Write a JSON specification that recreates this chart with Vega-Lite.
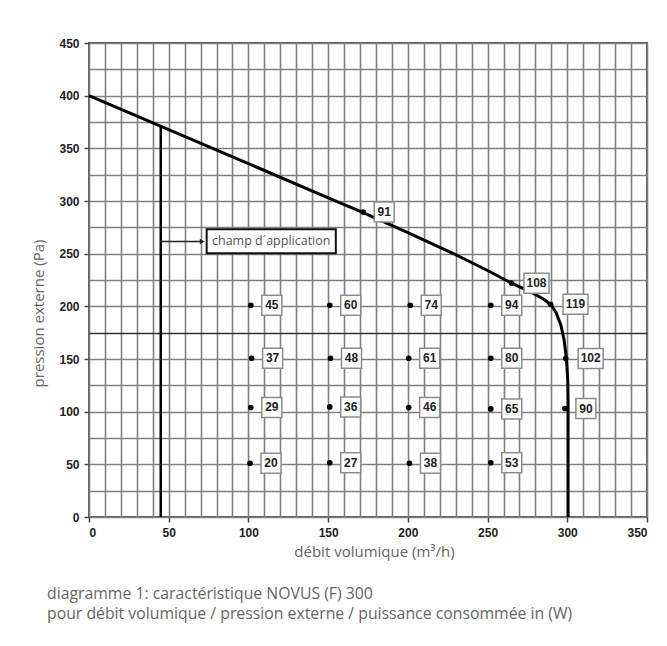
{
  "$schema": "https://vega.github.io/schema/vega-lite/v6.json",
  "width": 558,
  "height": 474,
  "autosize": "none",
  "padding": {"left": 89, "top": 43, "right": 20, "bottom": 129},
  "background": "white",
  "config": {
    "view": {"stroke": "#555", "strokeWidth": 2},
    "axis": {
      "labelFont": "Liberation Sans", "labelFontWeight": "bold", "labelFontSize": 12, "labelColor": "#222",
      "titleFont": "Open Sans", "titleFontWeight": "normal", "titleFontSize": 15, "titleColor": "#666",
      "domain": false, "tickColor": "#444", "tickWidth": 1.5, "tickSize": 5, "labelPadding": 5,
      "gridColor": "#808080", "gridWidth": 1.6, "gridOpacity": 1
    }
  },
  "title": {
    "text": ["diagramme 1: caractéristique NOVUS (F) 300", "pour débit volumique / pression externe / puissance consommée in (W)"],
    "orient": "bottom", "anchor": "start", "frame": "group", "dx": -42, "offset": 28,
    "font": "Open Sans", "fontSize": 15.8, "fontWeight": "normal", "color": "#666", "lineHeight": 20
  },
  "encoding": {
    "x": {
      "field": "x", "type": "quantitative",
      "scale": {"domain": [0, 350], "nice": false, "zero": true},
      "axis": {
        "title": "débit volumique (m³/h)", "titleX": 285, "titleY": 34, "titleBaseline": "middle",
        "values": [0,10,20,30,40,50,60,70,80,90,100,110,120,130,140,150,160,170,180,190,200,210,220,230,240,250,260,270,280,290,300,310,320,330,340,350],
        "labelExpr": "datum.value % 50 == 0 ? datum.label : ''",
        "tickOpacity": {"condition": {"test": "datum.value % 50 == 0", "value": 1}, "value": 0}
      }
    },
    "y": {
      "field": "y", "type": "quantitative",
      "scale": {"domain": [0, 450], "nice": false, "zero": true},
      "axis": {
        "title": "pression externe (Pa)", "titleX": -51, "titleY": 270, "titleBaseline": "middle", "titleAlign": "center",
        "values": [0,25,50,75,100,125,150,175,200,225,250,275,300,325,350,375,400,425,450],
        "labelExpr": "datum.value % 50 == 0 ? datum.label : ''",
        "tickOpacity": {"condition": {"test": "datum.value % 50 == 0", "value": 1}, "value": 0},
        "gridColor": {"condition": {"test": "datum.value == 175", "value": "#333"}, "value": "#808080"}
      }
    }
  },
  "layer": [
    {
      "data": {"values": [
        {"i": 0, "x": 0, "y": 400},
        {"i": 1, "x": 50, "y": 367.8},
        {"i": 2, "x": 100, "y": 335.5},
        {"i": 3, "x": 150, "y": 303},
        {"i": 4, "x": 172, "y": 289},
        {"i": 5, "x": 200, "y": 270},
        {"i": 6, "x": 230, "y": 249},
        {"i": 7, "x": 250, "y": 234},
        {"i": 8, "x": 265, "y": 222},
        {"i": 9, "x": 278, "y": 213},
        {"i": 10, "x": 286, "y": 206},
        {"i": 11, "x": 290, "y": 201},
        {"i": 12, "x": 293, "y": 194},
        {"i": 13, "x": 296, "y": 182},
        {"i": 14, "x": 298, "y": 168},
        {"i": 15, "x": 299.5, "y": 150},
        {"i": 16, "x": 300.3, "y": 130},
        {"i": 17, "x": 300.5, "y": 110},
        {"i": 18, "x": 300.5, "y": 90},
        {"i": 19, "x": 300.5, "y": 0}
      ]},
      "mark": {"type": "line", "color": "black", "strokeWidth": 3, "interpolate": "linear"},
      "encoding": {"order": {"field": "i", "type": "quantitative"}}
    },
    {
      "data": {"values": [{"x": 45, "y": 0, "y2": 370.5}]},
      "mark": {"type": "rule", "color": "black", "strokeWidth": 2.5},
      "encoding": {"y2": {"field": "y2"}}
    },
    {
      "data": {"values": [{"x": 45, "x2": 70, "y": 261.5}]},
      "mark": {"type": "rule", "color": "#222", "strokeWidth": 1.5},
      "encoding": {"x2": {"field": "x2"}}
    },
    {
      "data": {"values": [{"x": 71, "y": 261.5}]},
      "mark": {"type": "point", "shape": "triangle-right", "filled": true, "color": "#222", "size": 30, "opacity": 1}
    },
    {
      "data": {"values": [{"x": 73.8, "x2": 154.8, "y": 250.4, "y2": 273.2}]},
      "mark": {"type": "rect", "fill": "white", "stroke": "#111", "strokeWidth": 2},
      "encoding": {"x2": {"field": "x2"}, "y2": {"field": "y2"}}
    },
    {
      "data": {"values": [{"x": 114.3, "y": 261.8, "t": "champ d´application"}]},
      "mark": {"type": "text", "font": "Open Sans", "fontSize": 12.5, "color": "#555", "align": "center", "baseline": "middle"},
      "encoding": {"text": {"field": "t"}}
    },
    {
      "data": {"name": "pts", "values": [
        {"x": 101.5, "y": 201, "p": 45}, {"x": 151, "y": 201, "p": 60}, {"x": 201.5, "y": 201, "p": 74}, {"x": 252, "y": 201, "p": 94},
        {"x": 102, "y": 150.7, "p": 37}, {"x": 151.5, "y": 150.7, "p": 48}, {"x": 200.5, "y": 150.7, "p": 61}, {"x": 252, "y": 150.7, "p": 80},
        {"x": 101.5, "y": 104, "p": 29}, {"x": 151, "y": 104.5, "p": 36}, {"x": 200.5, "y": 104, "p": 46}, {"x": 252, "y": 102.6, "p": 65},
        {"x": 101, "y": 51, "p": 20}, {"x": 151, "y": 51.5, "p": 27}, {"x": 201, "y": 51, "p": 38}, {"x": 252, "y": 51.5, "p": 53},
        {"x": 172, "y": 289.5, "p": 91}, {"x": 265, "y": 222, "p": 108}, {"x": 289.5, "y": 202, "p": 119}, {"x": 299, "y": 150.5, "p": 102}, {"x": 298.5, "y": 103, "p": 90}
      ]},
      "layer": [
        {"mark": {"type": "point", "filled": true, "color": "black", "size": 32, "opacity": 1}},
        {
          "transform": [{"filter": "datum.p < 100"}],
          "layer": [
            {"mark": {"type": "point", "shape": "M-1,-1H1V1H-1Z", "size": 400, "filled": true, "fill": "white", "stroke": "#8c8c8c", "strokeWidth": 1.5, "opacity": 1, "xOffset": 21}},
            {"mark": {"type": "text", "font": "Liberation Sans", "fontWeight": "bold", "fontSize": 12, "color": "#222", "dx": 21, "align": "center", "baseline": "middle"}, "encoding": {"text": {"field": "p"}}}
          ]
        },
        {
          "transform": [{"filter": "datum.p >= 100"}],
          "layer": [
            {"mark": {"type": "point", "shape": "M-1.25,-1H1.25V1H-1.25Z", "size": 400, "filled": true, "fill": "white", "stroke": "#8c8c8c", "strokeWidth": 1.5, "opacity": 1, "xOffset": 25}},
            {"mark": {"type": "text", "font": "Liberation Sans", "fontWeight": "bold", "fontSize": 12, "color": "#222", "dx": 25, "align": "center", "baseline": "middle"}, "encoding": {"text": {"field": "p"}}}
          ]
        }
      ]
    }
  ]
}
